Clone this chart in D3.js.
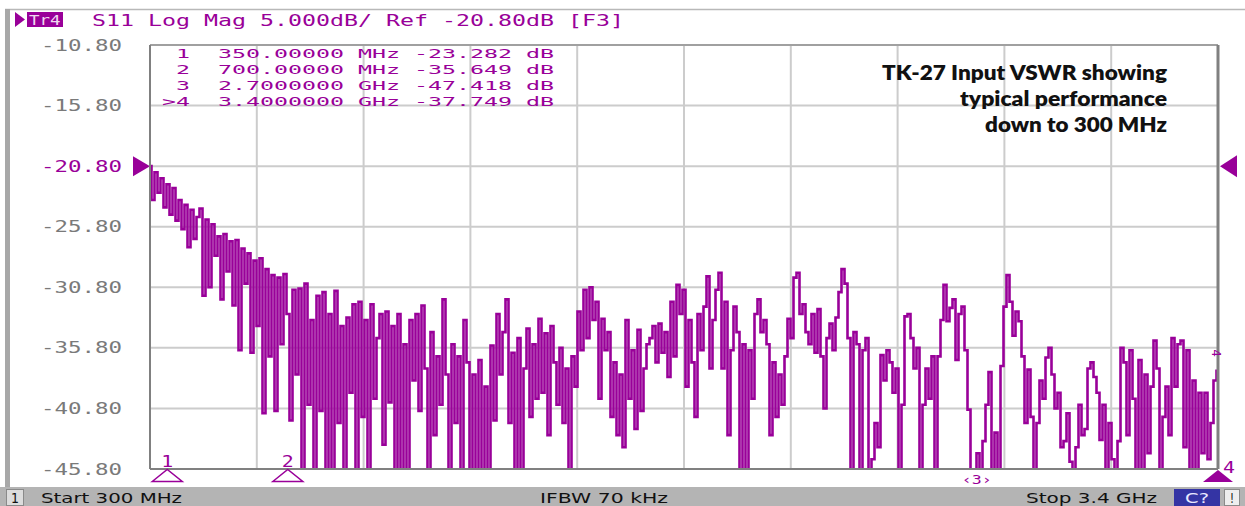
<!DOCTYPE html>
<html>
<head>
<meta charset="utf-8">
<script src="https://cdn.jsdelivr.net/npm/d3@7"></script>
<style>
  body { margin: 0; background: #fff; overflow: hidden; }
  svg { display: block; }
  text { white-space: pre; }
</style>
</head>
<body>
<div id="plot_vna"></div>
<script>
// sweep + scale settings
const startGHz = 0.3;
const stopGHz = 3.4;
const xDivisions = 10;
const yTicks = [-10.8, -15.8, -20.8, -25.8, -30.8, -35.8, -40.8, -45.8];
const refLevel = -20.8;

const titleText = "S11 Log Mag 5.000dB/ Ref -20.80dB [F3]";

const markerIds = [" 1", " 2", " 3", ">4"];
const markerFreqs = [0.35, 0.7, 2.7, 3.4];
const markerFreqText = ["350.00000", "700.00000", "2.7000000", "3.4000000"];
const markerUnits = ["MHz", "MHz", "GHz", "GHz"];
const markerDb = [-23.282, -35.649, -47.418, -37.749];

// S11 trace, dB, evenly spaced sweep points from start to stop (values below -45.8 run off screen)
const s11_dB = [
  -20.8, -23.6, -21.3, -23.0, -21.8, -24.2, -22.3, -24.8, -22.6, -25.3,
  -23.6, -26.0, -24.0, -27.5, -24.4, -26.8, -25.0, -24.3, -31.5, -25.2, -30.8,
  -25.6, -28.2, -26.6, -31.8, -26.4, -29.5, -27.0, -32.3, -26.9, -36.0,
  -27.6, -30.5, -28.0, -36.2, -28.6, -34.0, -28.4, -41.2, -29.3, -36.5,
  -29.8, -41.0, -30.0, -35.5, -29.7, -33.0, -41.8, -31.0, -38.0, -30.9, -47.0,
  -30.5, -40.5, -33.5, -48, -31.5, -41.0, -31.2, -48, -33.0, -48,
  -31.1, -42.0, -34.0, -48, -33.3, -39.5, -32.2, -48, -32.0, -41.5,
  -33.5, -48, -32.2, -40.0, -35.0, -33.0, -43.8, -32.8, -40.3, -34.0, -48,
  -33.0, -48, -35.5, -46.0, -33.5, -38.5, -33.0, -41.0, -32.3, -37.5,
  -48, -34.5, -43.0, -36.5, -40.5, -31.8, -38.0, -48, -35.5, -42.0,
  -36.5, -48, -33.5, -37.0, -48, -38.0, -46.0, -36.8, -48, -39.0, -48,
  -35.6, -41.8, -33.0, -38.0, -34.5, -31.8, -42.0, -36.2, -48, -35.0,
  -48, -37.5, -34.2, -41.5, -35.5, -40.0, -33.4, -39.5, -34.6, -43.0,
  -34.0, -37.0, -40.5, -35.8, -42.0, -37.5, -48, -36.5, -39.0, -32.8, -36.0,
  -31.0, -35.0, -30.8, -33.5, -32.0, -40.0, -33.4, -36.0, -34.5, -41.5,
  -37.0, -43.0, -38.0, -44.0, -33.5, -40.0, -36.0, -42.5, -34.3, -41.0,
  -37.5, -35.5, -35.0, -34.0, -37.0, -33.8, -36.2, -34.5, -38.2, -32.0, -36.5,
  -30.6, -33.0, -31.0, -39.0,
  -33.5, -37.0, -41.5, -33.0, -36.0, -32.4, -29.9, -37.5, -33.5, -31.0,
  -29.6, -37.5, -32.0, -43.0, -36.0, -32.4, -34.5, -48, -35.5, -48, -36.0,
  -40.0, -33.0, -31.8, -34.5, -33.5, -35.5, -43.0, -37.0, -41.5, -38.0,
  -40.5, -36.5, -33.4, -35.0, -30.0, -29.6, -33.0, -32.2, -34.5, -35.5, -33.0,
  -36.2, -32.6, -36.5, -40.8, -35.0, -33.8, -36.0, -33.3, -31.2, -29.3,
  -30.5, -35.0, -48, -34.5, -35.5, -48, -36.0, -35.0, -48, -45.0,
  -42.0, -44.0, -36.4, -38.5, -36.0, -37.0, -39.5, -37.5, -48, -40.5, -33.2,
  -33.0, -35.0, -37.5, -35.8, -48, -40.5, -37.5, -40.0, -36.5, -48,
  -36.5, -33.5, -30.6, -33.6, -32.5, -31.8, -36.8, -33.0, -32.4, -36.0,
  -40.9, -46.0, -48, -44.5, -48, -43.5, -40.5, -37.8, -48, -42.8, -48,
  -37.3, -32.4, -29.8, -32.0, -34.8, -32.8, -33.6, -36.5, -42.0, -37.6,
  -41.5, -46.5, -42.0, -38.5, -40.0, -36.6, -35.8, -38.0, -40.8, -39.5, -44.0,
  -43.5, -41.2, -45.2, -48, -44.0, -40.5, -43.0, -42.5, -37.5, -37.0,
  -38.2, -39.5, -43.4, -40.5, -48, -42.0, -45.0, -48, -43.5, -35.8,
  -37.0, -43.0, -36.0, -40.0, -46.0, -36.8, -48, -38.0, -44.5, -39.0, -35.2,
  -37.5, -48, -41.5, -39.0, -43.0, -35.0, -39.0, -35.5,
  -35.2, -44.0, -36.0, -48, -38.5, -46.0, -39.5, -44.5, -39.5, -45.0, -42.0, -38.5, -37.7
];

const noteLines = ["TK-27 Input VSWR showing", "typical performance", "down to 300 MHz"];
const statusLeft = "Start 300 MHz";
const statusMid = "IFBW 70 kHz";
const statusRight = "Stop 3.4 GHz";

const magenta = "#990099";
const W = 1245, H = 506;
const box = { left: 150, right: 1218, top: 45, bottom: 469 };

let svg = d3.select("#plot_vna")
    .append("svg")
    .attr("width", W)
    .attr("height", H);

const xScale = d3.scaleLinear()
    .domain([startGHz, stopGHz])
    .range([box.left, box.right]);

const yScale = d3.scaleLinear()
    .domain([yTicks[yTicks.length - 1], yTicks[0]])
    .range([box.bottom, box.top]);

// stretched monospace text like the instrument font
function monoText(g, x, y, str, pitch, size, color) {
    return g.append("text")
        .attr("x", x)
        .attr("y", y)
        .attr("font-family", "DejaVu Sans Mono")
        .attr("font-size", size)
        .attr("fill", color)
        .attr("textLength", str.length * pitch)
        .attr("lengthAdjust", "spacingAndGlyphs")
        .text(str);
}

// outer frame of the screen
svg.append("line")
    .attr("x1", 5).attr("x2", W).attr("y1", 9.5).attr("y2", 9.5)
    .attr("stroke", "#b8b8b8").attr("stroke-width", 1.5);
svg.append("rect")
    .attr("x", 5).attr("y", 9).attr("width", 5).attr("height", 478)
    .attr("fill", "#a8a8a8");

// title row
let title = svg.append("g").attr("class", "title");
title.append("path")
    .attr("d", "M15,12 L25,19.5 L15,27 Z")
    .attr("fill", magenta);
title.append("rect")
    .attr("x", 27).attr("y", 12).attr("width", 36).attr("height", 15)
    .attr("fill", magenta);
monoText(title, 29, 25, "Tr4", 10.5, 14, "#f0d8f0");
monoText(title, 92, 26, titleText, 14, 16, magenta);

// grid
let grid = svg.append("g").attr("class", "grid");
grid.selectAll("line.v")
    .data(d3.range(1, xDivisions))
    .enter()
    .append("line")
    .attr("x1", k => xScale(startGHz + k * (stopGHz - startGHz) / xDivisions))
    .attr("x2", k => xScale(startGHz + k * (stopGHz - startGHz) / xDivisions))
    .attr("y1", box.top)
    .attr("y2", box.bottom)
    .attr("stroke", "#cccccc")
    .attr("stroke-width", 2);
grid.selectAll("line.h")
    .data(yTicks.slice(1, -1))
    .enter()
    .append("line")
    .attr("x1", box.left)
    .attr("x2", box.right)
    .attr("y1", d => yScale(d))
    .attr("y2", d => yScale(d))
    .attr("stroke", "#cccccc")
    .attr("stroke-width", 2);

// y labels
let ylab = svg.append("g").attr("class", "ylabels");
yTicks.forEach(v => {
    monoText(ylab, 41, yScale(v) + 5.5, v.toFixed(2), 13.5, 15, v === refLevel ? magenta : "#7a7a7a");
});

// reference level arrows
svg.append("path")
    .attr("d", `M133,${yScale(refLevel) - 10} L150,${yScale(refLevel)} L133,${yScale(refLevel) + 10} Z`)
    .attr("fill", magenta);
svg.append("path")
    .attr("d", `M1237,${yScale(refLevel) - 11} L1220,${yScale(refLevel)} L1237,${yScale(refLevel) + 11} Z`)
    .attr("fill", magenta);

// trace
svg.append("clipPath")
    .attr("id", "clip_box")
    .append("rect")
    .attr("x", box.left).attr("y", box.top)
    .attr("width", box.right - box.left).attr("height", box.bottom - box.top);

const stepGHz = (stopGHz - startGHz) / (s11_dB.length - 1);
const line = d3.line()
    .x((d, i) => xScale(startGHz + i * stepGHz))
    .y(d => yScale(d))
    .curve(d3.curveStep);

svg.append("path")
    .datum(s11_dB)
    .attr("clip-path", "url(#clip_box)")
    .attr("d", line)
    .attr("fill", "none")
    .attr("stroke", magenta)
    .attr("stroke-width", 2.6);

// plot frame
svg.append("line").attr("x1", box.left).attr("x2", box.right).attr("y1", box.top).attr("y2", box.top)
    .attr("stroke", "#a0a0a0").attr("stroke-width", 2);
svg.append("line").attr("x1", box.left).attr("x2", box.right).attr("y1", box.bottom).attr("y2", box.bottom)
    .attr("stroke", "#808080").attr("stroke-width", 2);
svg.append("line").attr("x1", box.left).attr("x2", box.left).attr("y1", box.top).attr("y2", box.bottom)
    .attr("stroke", "#808080").attr("stroke-width", 2);
svg.append("line").attr("x1", box.right).attr("x2", box.right).attr("y1", box.top).attr("y2", box.bottom)
    .attr("stroke", "#808080").attr("stroke-width", 3);

// marker table
let table = svg.append("g").attr("class", "markers");
markerIds.forEach((id, i) => {
    const row = id + "  " + markerFreqText[i] + " " + markerUnits[i] + " " + markerDb[i].toFixed(3) + " dB";
    monoText(table, 162, 58 + i * 16, row, 14, 13, magenta);
});

// marker symbols under the grid
let mk = svg.append("g").attr("class", "marker_symbols");
markerFreqs.forEach((f, i) => {
    const x = xScale(f);
    if (i < 2) {
        mk.append("path")
            .attr("d", `M${x - 15},481.5 L${x},469.5 L${x + 15},481.5 Z`)
            .attr("fill", "none")
            .attr("stroke", magenta)
            .attr("stroke-width", 1.5);
        monoText(mk, x - 6, 467, markerIds[i].trim(), 12, 15, magenta);
    } else if (yScale(markerDb[i]) > box.bottom) {
        monoText(mk, x - 15, 484, "\u2039" + markerIds[i].trim() + "\u203A", 10, 13, magenta);
    } else {
        mk.append("path")
            .attr("d", `M${x - 15},482 L${x},470 L${x + 15},482 Z`)
            .attr("fill", magenta);
        monoText(mk, x + 5, 473, markerIds[i].replace(">", ""), 12, 15, magenta);
        mk.append("text")
            .attr("transform", `translate(${x - 6},${yScale(markerDb[i]) - 22}) rotate(90)`)
            .attr("font-family", "DejaVu Sans Mono")
            .attr("font-size", 12)
            .attr("fill", magenta)
            .text(markerIds[i].replace(">", ""));
    }
});

// annotation
let note = svg.append("g").attr("class", "note");
const noteWidths = [285, 207, 182];
noteLines.forEach((t, i) => {
    note.append("text")
        .attr("x", 1167)
        .attr("y", 80 + i * 26)
        .attr("text-anchor", "end")
        .attr("font-family", "Lato, 'Open Sans', sans-serif")
        .attr("font-weight", 800)
        .attr("font-size", 21)
        .attr("fill", "#111")
        .attr("textLength", noteWidths[i])
        .attr("lengthAdjust", "spacingAndGlyphs")
        .text(t);
});

// status bar
let bar = svg.append("g").attr("class", "status");
bar.append("rect")
    .attr("x", 0).attr("y", 487).attr("width", W).attr("height", H - 487)
    .attr("fill", "#b4b4b4");
bar.append("rect")
    .attr("x", 6.5).attr("y", 489.5).attr("width", 17).attr("height", 16)
    .attr("fill", "#dcdcdc").attr("stroke", "#8a8a8a");
function barText(x, str, len, color) {
    return bar.append("text")
        .attr("x", x).attr("y", 503)
        .attr("font-family", "DejaVu Sans")
        .attr("font-size", 14)
        .attr("fill", color)
        .attr("textLength", len)
        .attr("lengthAdjust", "spacingAndGlyphs")
        .text(str);
}
barText(11, "1", 8, "#111");
barText(41, statusLeft, 141, "#111");
barText(540, statusMid, 128, "#111");
barText(1026, statusRight, 131, "#111");
bar.append("rect")
    .attr("x", 1174).attr("y", 489).attr("width", 46).attr("height", 17)
    .attr("fill", "#3434a4");
barText(1185, "C?", 24, "#e8e8ff");
bar.append("rect")
    .attr("x", 1224.5).attr("y", 489.5).attr("width", 15).attr("height", 16)
    .attr("fill", "#eeeeee").attr("stroke", "#8a8a8a");
barText(1230, "!", 4, "#111");
</script>
</body>
</html>
